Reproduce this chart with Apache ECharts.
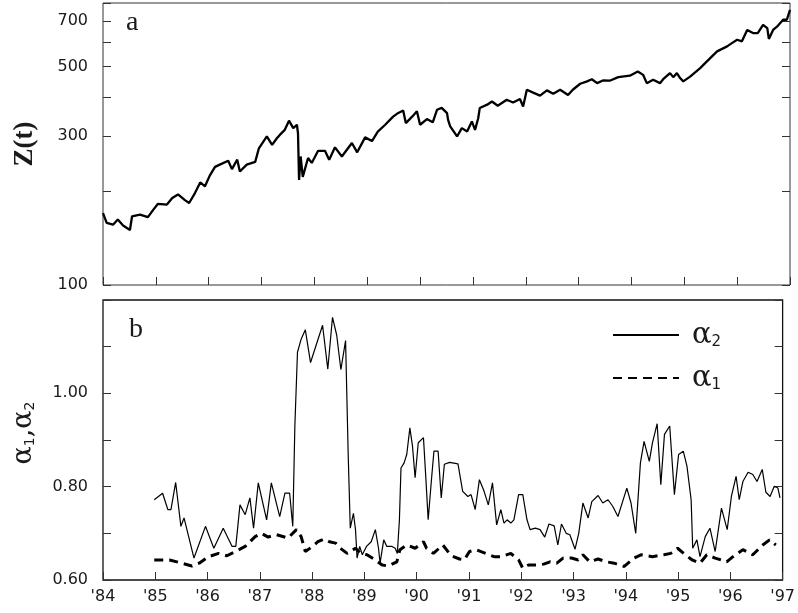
<!DOCTYPE html>
<html>
<head>
<meta charset="utf-8">
<script src="https://cdn.jsdelivr.net/npm/echarts@6/dist/echarts.min.js"></script>
<style>
  html, body { margin: 0; padding: 0; background: #fff; }
  #chart { width: 798px; height: 613px; }
</style>
</head>
<body>
<div id="chart"></div>
<script>
// Panel a: index level Z(t), decimal year vs value (log axis)
const zYears = [84.00,84.07,84.19,84.28,84.38,84.51,84.55,84.70,84.85,84.95,
  85.04,85.21,85.31,85.42,85.55,85.63,85.74,85.84,85.93,86.02,
  86.12,86.21,86.37,86.44,86.54,86.59,86.72,86.88,86.95,87.10,
  87.20,87.29,87.35,87.44,87.52,87.60,87.67,87.69,87.71,87.74,
  87.78,87.88,87.95,88.07,88.20,88.28,88.39,88.52,88.71,88.81,
  88.96,89.09,89.20,89.34,89.49,89.58,89.68,89.73,89.85,89.94,
  90.00,90.13,90.24,90.32,90.41,90.51,90.53,90.57,90.70,90.79,
  90.89,90.98,91.04,91.10,91.13,91.27,91.36,91.47,91.64,91.76,
  91.89,91.95,92.02,92.14,92.27,92.40,92.52,92.65,92.80,92.89,
  93.03,93.16,93.25,93.35,93.46,93.59,93.75,93.97,94.12,94.22,
  94.29,94.41,94.54,94.60,94.73,94.79,94.86,94.92,94.98,95.11,
  95.30,95.49,95.62,95.81,95.90,96.00,96.09,96.19,96.30,96.39,
  96.49,96.57,96.60,96.68,96.77,96.87,96.94,97.00];
const zValues = [170,158,156,162,155,150,166,168,165,174,
  182,181,190,195,187,183,197,213,207,224,
  239,243,250,235,252,231,243,248,274,299,
  281,295,303,314,336,318,326,306,217,258,
  222,255,246,269,269,252,276,258,285,266,
  297,289,310,326,346,355,362,330,346,360,
  326,340,332,364,369,355,338,322,299,318,
  310,334,314,342,369,378,387,375,392,384,
  394,373,422,413,404,420,410,422,406,422,
  441,449,456,443,452,451,463,468,483,471,
  443,454,443,456,477,463,477,460,449,465,
  495,533,560,581,595,610,603,656,641,641,
  681,665,614,656,676,707,707,761];

// Panel b: exponents alpha2 (solid) and alpha1 (dashed)
const a2Years = [84.98,85.14,85.24,85.30,85.39,85.49,85.55,85.74,85.96,86.12,
  86.30,86.47,86.54,86.62,86.72,86.81,86.88,86.97,87.13,87.22,
  87.38,87.48,87.57,87.63,87.67,87.72,87.79,87.87,87.97,88.20,
  88.30,88.39,88.47,88.55,88.64,88.69,88.73,88.79,88.83,88.86,
  88.91,88.96,89.04,89.13,89.21,89.27,89.30,89.37,89.43,89.53,
  89.59,89.63,89.67,89.70,89.76,89.81,89.87,89.92,89.97,90.03,
  90.13,90.17,90.22,90.28,90.33,90.41,90.47,90.53,90.63,90.79,
  90.88,90.98,91.04,91.12,91.20,91.29,91.37,91.45,91.53,91.61,
  91.67,91.73,91.80,91.86,91.95,92.03,92.11,92.17,92.27,92.36,
  92.45,92.53,92.63,92.70,92.77,92.86,92.93,93.03,93.10,93.18,
  93.28,93.35,93.47,93.56,93.66,93.75,93.85,94.02,94.10,94.19,
  94.28,94.35,94.45,94.51,94.60,94.67,94.74,94.84,94.93,95.01,
  95.10,95.17,95.25,95.28,95.36,95.42,95.52,95.61,95.71,95.83,
  95.94,96.02,96.11,96.17,96.24,96.34,96.43,96.51,96.61,96.68,
  96.76,96.84,96.91,96.95];
const a2Values = [0.772,0.786,0.751,0.751,0.809,0.715,0.733,0.647,0.715,0.668,
  0.711,0.672,0.672,0.761,0.740,0.776,0.711,0.808,0.729,0.808,
  0.736,0.786,0.786,0.715,0.930,1.088,1.116,1.136,1.066,1.146,
  1.052,1.163,1.125,1.051,1.113,0.870,0.711,0.743,0.708,0.647,
  0.672,0.654,0.672,0.682,0.708,0.668,0.636,0.686,0.672,0.672,
  0.668,0.657,0.729,0.840,0.851,0.869,0.926,0.887,0.819,0.894,
  0.905,0.829,0.729,0.811,0.876,0.876,0.776,0.848,0.852,0.849,
  0.790,0.779,0.783,0.751,0.815,0.790,0.761,0.808,0.718,0.751,
  0.722,0.729,0.722,0.729,0.783,0.783,0.729,0.708,0.711,0.708,
  0.692,0.720,0.716,0.675,0.720,0.700,0.697,0.666,0.700,0.765,
  0.733,0.768,0.781,0.765,0.772,0.758,0.736,0.797,0.765,0.700,
  0.851,0.897,0.854,0.894,0.935,0.804,0.912,0.930,0.783,0.869,
  0.876,0.844,0.772,0.668,0.686,0.650,0.693,0.711,0.661,0.754,
  0.708,0.779,0.822,0.772,0.811,0.831,0.826,0.811,0.837,0.788,
  0.779,0.801,0.797,0.776];

const a1Years = [84.98,85.27,85.51,85.70,85.84,86.02,86.21,86.37,86.53,86.72,
  86.91,87.03,87.16,87.32,87.54,87.70,87.79,87.87,88.01,88.11,
  88.23,88.33,88.45,88.54,88.67,88.83,88.93,89.05,89.18,89.34,
  89.46,89.62,89.68,89.81,89.97,90.13,90.19,90.32,90.50,90.66,
  90.82,90.91,91.01,91.13,91.32,91.48,91.61,91.80,91.95,92.03,
  92.14,92.30,92.43,92.55,92.68,92.80,92.96,93.09,93.18,93.31,
  93.47,93.63,93.78,93.97,94.16,94.29,94.51,94.73,94.86,94.99,
  95.14,95.27,95.42,95.55,95.71,95.93,96.05,96.24,96.43,96.62,
  96.75,96.87];
const a1Values = [0.643,0.643,0.636,0.630,0.636,0.650,0.657,0.652,0.661,0.672,
  0.693,0.700,0.692,0.697,0.690,0.708,0.693,0.661,0.672,0.682,
  0.688,0.682,0.679,0.668,0.657,0.668,0.657,0.654,0.645,0.632,
  0.630,0.639,0.665,0.675,0.668,0.682,0.668,0.657,0.675,0.652,
  0.645,0.643,0.661,0.665,0.657,0.650,0.650,0.657,0.643,0.625,
  0.632,0.632,0.634,0.639,0.636,0.647,0.647,0.643,0.654,0.639,
  0.645,0.639,0.636,0.629,0.647,0.654,0.650,0.654,0.657,0.668,
  0.654,0.643,0.636,0.654,0.647,0.639,0.650,0.665,0.654,0.675,
  0.686,0.675];

// Axis ticks and labels
const zTicks = [100, 200, 300, 400, 500, 600, 700, 800];
const zTickLabels = [100, 300, 500, 700];
const alphaTicks = [0.6, 0.7, 0.8, 0.9, 1.0, 1.1, 1.2];
const alphaTickLabels = [0.6, 0.8, 1.0];
const yearMin = 84, yearMax = 97;

const zip = (xs, ys) => xs.map((x, i) => [x, ys[i]]);

const TICK_FONT = 'DejaVu Sans';
const INK = '#1a1a1a';
const FRAME = '#333';

const tickStyle = { inside: true, length: 8, lineStyle: { color: FRAME, width: 1 } };
const labelStyle = { fontFamily: TICK_FONT, fontSize: 16, color: INK };

const chart = echarts.init(document.getElementById('chart'), null, { renderer: 'canvas' });

chart.setOption({
  animation: false,
  backgroundColor: '#fff',
  grid: [
    { left: 103, top: 3, width: 687, height: 282, show: true, borderColor: FRAME, borderWidth: 1, backgroundColor: 'transparent' },
    { left: 103, top: 300, width: 687, height: 280, show: true, borderColor: '#111', borderWidth: 1.3, backgroundColor: 'transparent' }
  ],
  xAxis: [
    {
      type: 'value', gridIndex: 0, min: yearMin, max: yearMax, interval: 1,
      axisLine: { show: false }, splitLine: { show: false },
      axisTick: tickStyle, axisLabel: { show: false }
    },
    {
      type: 'value', gridIndex: 1, min: yearMin, max: yearMax, interval: 1,
      axisLine: { show: false }, splitLine: { show: false },
      axisTick: tickStyle,
      axisLabel: Object.assign({ margin: 9, formatter: v => "'" + v }, labelStyle)
    }
  ],
  yAxis: [
    {
      type: 'log', logBase: 10, gridIndex: 0, min: 100, max: 800,
      axisLine: { show: false }, splitLine: { show: false },
      axisTick: Object.assign({ customValues: zTicks }, tickStyle),
      axisLabel: Object.assign({ customValues: zTickLabels, margin: 15 }, labelStyle),
      name: 'Z(t)', nameLocation: 'middle', nameRotate: 90, nameGap: 64, nameMoveOverlap: false,
      nameTextStyle: { fontFamily: 'Liberation Serif', fontWeight: 'bold', fontSize: 27, color: INK }
    },
    {
      type: 'log', logBase: 10, gridIndex: 0, min: 100, max: 800, position: 'right',
      axisLine: { show: false }, splitLine: { show: false },
      axisTick: Object.assign({ customValues: zTicks }, tickStyle),
      axisLabel: { show: false }
    },
    {
      type: 'value', gridIndex: 1, min: 0.6, max: 1.2, interval: 0.1,
      axisLine: { show: false }, splitLine: { show: false },
      axisTick: Object.assign({ customValues: alphaTicks }, tickStyle),
      axisLabel: Object.assign({ customValues: alphaTickLabels, margin: 15, formatter: v => v.toFixed(2) }, labelStyle),
      name: '{a|α}{s|1}{a|,α}{s|2}', nameLocation: 'middle', nameRotate: 90, nameGap: 66, nameMoveOverlap: false,
      nameTextStyle: {
        color: INK,
        padding: [0, 0, 0, 14],
        rich: {
          a: { fontFamily: 'DejaVu Serif', fontSize: 27, color: INK, verticalAlign: 'bottom', lineHeight: 30 },
          s: { fontFamily: 'DejaVu Sans', fontSize: 14, color: INK, verticalAlign: 'bottom', lineHeight: 20 }
        }
      }
    },
    {
      type: 'value', gridIndex: 1, min: 0.6, max: 1.2, interval: 0.1, position: 'right',
      axisLine: { show: false }, splitLine: { show: false },
      axisTick: Object.assign({ customValues: alphaTicks }, tickStyle),
      axisLabel: { show: false }
    }
  ],
  legend: {
    orient: 'vertical', left: 607, top: 316, itemWidth: 66, itemHeight: 16, itemGap: 14,
    data: ['α2', 'α1'],
    itemStyle: { opacity: 0 },
    formatter: name => '{a|α}{s|' + name.slice(1) + '}',
    textStyle: {
      padding: [0, 0, 0, 8],
      rich: {
        a: { fontFamily: 'DejaVu Serif', fontSize: 29, color: INK, verticalAlign: 'bottom', lineHeight: 30 },
        s: { fontFamily: 'DejaVu Sans', fontSize: 15, color: INK, verticalAlign: 'bottom', lineHeight: 18 }
      }
    }
  },
  graphic: [
    { type: 'text', left: 126, top: 9, style: { text: 'a', font: '28px "Liberation Serif"', fill: INK } },
    { type: 'text', left: 129, top: 316, style: { text: 'b', font: '28px "Liberation Serif"', fill: INK } }
  ],
  series: [
    {
      name: 'Z(t)', type: 'line', xAxisIndex: 0, yAxisIndex: 0,
      data: zip(zYears, zValues), showSymbol: false, symbol: 'none',
      lineStyle: { color: '#000', width: 2.3 }
    },
    {
      name: 'α2', type: 'line', xAxisIndex: 1, yAxisIndex: 2,
      data: zip(a2Years, a2Values), showSymbol: false, symbol: 'none',
      lineStyle: { color: '#000', width: 1.2 }, itemStyle: { color: '#000' }
    },
    {
      name: 'α1', type: 'line', xAxisIndex: 1, yAxisIndex: 2,
      data: zip(a1Years, a1Values), showSymbol: false, symbol: 'none',
      lineStyle: { color: '#000', width: 3, type: [9, 6] }, itemStyle: { color: '#000' }
    }
  ]
});
</script>
</body>
</html>
